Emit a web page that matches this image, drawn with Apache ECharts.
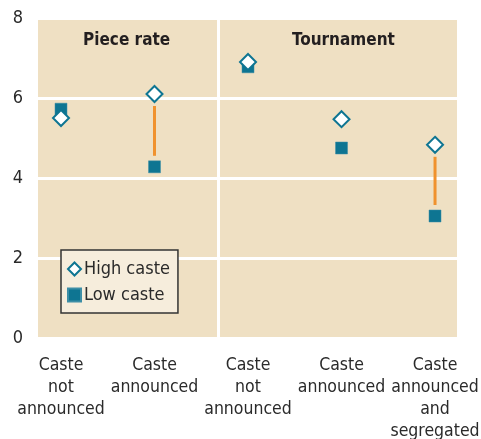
<!DOCTYPE html>
<html>
<head>
<meta charset="utf-8">
<script src="https://cdn.jsdelivr.net/npm/echarts@6/dist/echarts.min.js"></script>
<style>
  html, body { margin: 0; padding: 0; background: #fff; }
  #chart { width: 481px; height: 439px; }
</style>
</head>
<body>
<div id="chart"></div>
<script>
// categories and their x positions (points are not evenly spaced)
const categories = ['Caste\nnot\nannounced', 'Caste\nannounced', 'Caste\nnot\nannounced', 'Caste\nannounced', 'Caste\nannounced\nand\nsegregated']
const xPos = [1, 2, 3, 4, 5]
const panels = ['Piece rate', 'Tournament']
const highCaste = [5.5, 6.1, 6.9, 5.47, 4.83]
const lowCaste = [5.72, 4.28, 6.78, 4.75, 3.05]
// which categories get the orange connector
const connected = [1, 4]

const FONT = "'Liberation Sans Narrow', 'DejaVu Sans Condensed', 'Liberation Sans', sans-serif"
const TEAL = '#0e7592'
const ORANGE = '#f0922e'

const chart = echarts.init(document.getElementById('chart'))

chart.setOption({
  animation: false,
  textStyle: { fontFamily: FONT },
  grid: {
    left: 38, right: 24, top: 18, bottom: 101,
    outerBoundsMode: 'none',
    show: true, backgroundColor: '#efe0c3', borderWidth: 0
  },
  xAxis: {
    type: 'value',
    min: 0.754, max: 5.235,
    axisLine: { show: false },
    axisTick: { show: false },
    splitLine: { show: false },
    axisLabel: {
      customValues: xPos,
      formatter: v => categories[xPos.indexOf(Math.round(v))] || '',
      color: '#2a2a2a', fontSize: 17.5, lineHeight: 22, margin: 16,
      fontFamily: FONT
    }
  },
  yAxis: {
    type: 'value',
    min: 0, max: 8, interval: 2,
    axisLine: { show: false },
    axisTick: { show: false },
    splitLine: { lineStyle: { color: '#ffffff', width: 3 } },
    axisLabel: { color: '#2a2a2a', fontSize: 18, margin: 15, fontFamily: FONT }
  },
  legend: {
    left: 61, top: 250,
    orient: 'vertical',
    itemGap: 8,
    itemWidth: 13, itemHeight: 13,
    padding: [10, 8, 9, 6],
    backgroundColor: '#f6eddc',
    borderColor: '#333', borderWidth: 1.5,
    textStyle: { fontSize: 18, color: '#2a2a2a', fontFamily: FONT, padding: [0, 0, 0, -2] },
    data: ['High caste', 'Low caste']
  },
  graphic: [
    { type: 'text', left: 83, top: 32, style: { text: panels[0], font: "bold 17px " + FONT, fill: '#231f20' } },
    { type: 'text', left: 292, top: 32, style: { text: panels[1], font: "bold 17px " + FONT, fill: '#231f20' } }
  ],
  series: [
    {
      type: 'custom',
      silent: true,
      z: 1,
      renderItem: (params, api) => {
        const top = api.coord([api.value(0), api.value(1)])
        const bot = api.coord([api.value(0), api.value(2)])
        return {
          type: 'line',
          shape: { x1: top[0], y1: top[1] + 12, x2: bot[0], y2: bot[1] - 11 },
          style: { stroke: ORANGE, lineWidth: 3 }
        }
      },
      data: connected.map(i => [xPos[i], highCaste[i], lowCaste[i]]),
      markLine: {
        silent: true,
        symbol: 'none',
        label: { show: false },
        lineStyle: { color: '#ffffff', width: 3, type: 'solid' },
        data: [{ xAxis: 2.68 }]
      }
    },
    {
      name: 'Low caste',
      type: 'scatter',
      symbol: 'rect',
      symbolSize: 12,
      z: 3,
      itemStyle: { color: TEAL, borderColor: '#3d8ea6', borderWidth: 0.5, opacity: 1 },
      data: xPos.map((x, i) => [x, lowCaste[i]])
    },
    {
      name: 'High caste',
      type: 'scatter',
      symbol: 'diamond',
      symbolSize: 16,
      z: 4,
      itemStyle: { color: '#ffffff', borderColor: TEAL, borderWidth: 2, opacity: 1 },
      data: xPos.map((x, i) => [x, highCaste[i]])
    }
  ]
})
</script>
</body>
</html>
